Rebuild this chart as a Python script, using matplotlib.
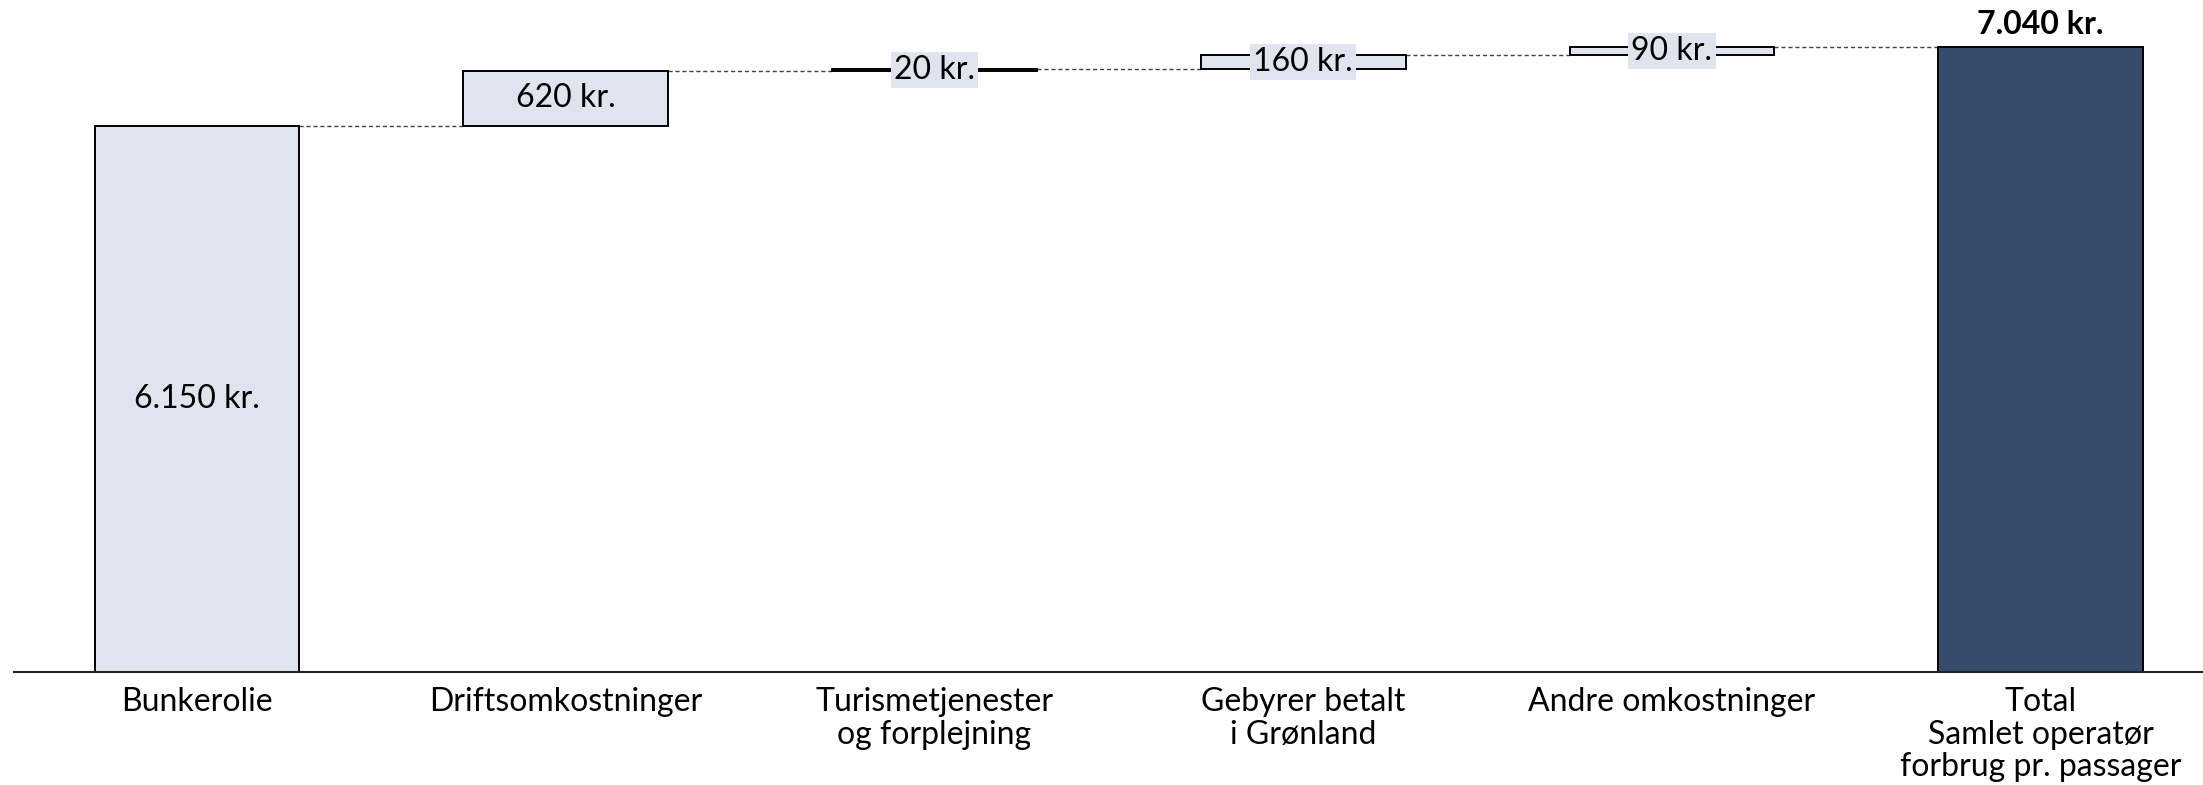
import numpy as np
import matplotlib.pyplot as plt

plt.rcParams['font.family'] = ['Lato', 'DejaVu Sans']

# Data
kategorier = ['Bunkerolie', 'Driftsomkostninger', 'Turismetjenester\nog forplejning',
              'Gebyrer betalt\ni Grønland', 'Andre omkostninger',
              'Total\nSamlet operatør\nforbrug pr. passager']
vaerdier = [6150, 620, 20, 160, 90]
total = 7040
etiketter = ['6.150 kr.', '620 kr.', '20 kr.', '160 kr.', '90 kr.', '7.040 kr.']

lys = '#dfe4ee'
moerk = '#374c6b'

fig = plt.figure(figsize=(22.03, 7.85), dpi=100)
ax = fig.add_axes([0.0064, 0.144, 0.9936, 0.856])

x = np.arange(len(kategorier))
bredde = 0.555

bunde = np.concatenate([[0], np.cumsum(vaerdier)[:-1]])
hoejder = list(vaerdier) + [total]
bunde = list(bunde) + [0]
farver = [lys] * len(vaerdier) + [moerk]

ax.bar(x, hoejder, bottom=bunde, width=bredde, color=farver,
       edgecolor='black', linewidth=1.4, zorder=2)

# forbindelseslinjer
toppe = np.array(bunde) + np.array(hoejder)
for i in range(len(x) - 1):
    ax.plot([x[i] + bredde / 2, x[i + 1] - bredde / 2], [toppe[i], toppe[i]],
            ls=(0, (3, 2)), color='#444444', lw=1.0, zorder=1)

fs = 23
# etiketter
for i in range(len(vaerdier)):
    midt = bunde[i] + hoejder[i] / 2
    if i < 2:
        ax.text(x[i], midt, etiketter[i], ha='center', va='center', fontsize=fs)
    else:
        ax.text(x[i], midt, etiketter[i], ha='center', va='center', fontsize=fs,
                zorder=3,
                bbox=dict(boxstyle='square,pad=0.1', fc=lys, ec='none'))
ax.text(x[-1], total + 90, etiketter[-1], ha='center', va='bottom',
        fontsize=fs, fontweight='bold')

ax.set_xlim(-0.496, 5.44)
ax.set_ylim(0, total * 672 / 625)
ax.set_xticks(x)
ax.set_xticklabels(kategorier, fontsize=fs, linespacing=1.1)
ax.tick_params(axis='x', length=0, pad=11)
ax.set_yticks([])
for s in ['top', 'right', 'left']:
    ax.spines[s].set_visible(False)
ax.spines['bottom'].set_linewidth(1.5)
ax.spines['bottom'].set_color('#222222')

fig.savefig('out.png', dpi=100)
